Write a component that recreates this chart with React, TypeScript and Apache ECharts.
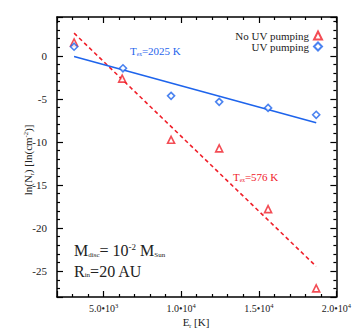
import React, { useEffect, useRef } from "react";
import * as echarts from "echarts";

// Data (E_r in K, ln(N_r))
const noUvE = [3100, 6200, 9350, 12450, 15600, 18700];
const noUvLnN = [1.55, -2.65, -9.75, -10.75, -17.8, -27.0];
const uvE = [3100, 6250, 9350, 12450, 15600, 18700];
const uvLnN = [1.05, -1.45, -4.65, -5.35, -6.05, -6.85];
// Fitted excitation lines (end points)
const fitNoUvE = [3100, 18700];
const fitNoUvLnN = [2.63, -24.45];
const fitUvE = [3100, 18700];
const fitUvLnN = [-0.08, -7.78];

const xTickLabels: Record<number, [string, string]> = {
  5000: ["5.0•10", "3"],
  10000: ["1.0•10", "4"],
  15000: ["1.5•10", "4"],
  20000: ["2.0•10", "4"],
};
const yTickValues = [0, -5, -10, -15, -20, -25];

const RED = "#f0202a";
const BLUE = "#1e64ec";
const FONT = '"Liberation Serif", "Times New Roman", serif';

export default function App() {
  const ref = useRef<HTMLDivElement>(null);
  useEffect(() => {
    if (!ref.current) return;
    const chart = echarts.init(ref.current, undefined, { renderer: "svg" });
    const axisCommon = {
      type: "value" as const,
      splitLine: { show: false },
      axisLine: { show: true, onZero: false, lineStyle: { color: "#000", width: 1.5 } },
      axisTick: { show: true, inside: true, length: 6, lineStyle: { color: "#000", width: 1.2 } },
      minorTick: { show: true, splitNumber: 5, length: 3, lineStyle: { color: "#000", width: 1.2 } },
    };
    const xCommon = { ...axisCommon, min: 2000, max: 20000, splitNumber: 4 };
    const yCommon = { ...axisCommon, min: -28, max: 4.5, splitNumber: 5 };
    chart.setOption({
      animation: false,
      backgroundColor: "#fff",
      textStyle: { fontFamily: FONT },
      grid: { left: 57, right: 17, top: 17, bottom: 37, containLabel: false },
      xAxis: [
        {
          ...xCommon,
          position: "bottom",
          axisLabel: {
            show: true,
            margin: 5,
            fontFamily: FONT,
            color: "#222",
            formatter: (v: number) => {
              const t = xTickLabels[Math.round(v)];
              return t ? `{b|${t[0]}}{s|${t[1]}}` : "";
            },
            rich: {
              b: { fontSize: 10, fontFamily: FONT, color: "#222", lineHeight: 12 },
              s: { fontSize: 6.5, fontFamily: FONT, color: "#222", verticalAlign: "top", lineHeight: 12, padding: [0, 0, 5, 0] },
            },
          },
        },
        { ...xCommon, position: "top", axisLabel: { show: false } },
      ],
      yAxis: [
        {
          ...yCommon,
          position: "left",
          axisLabel: {
            show: true,
            margin: 10,
            fontFamily: FONT,
            fontSize: 11,
            color: "#222",
            formatter: (v: number) => (yTickValues.includes(Math.round(v * 100) / 100) ? String(v) : ""),
          },
        },
        { ...yCommon, position: "right", axisLabel: { show: false } },
      ],
      legend: {
        orient: "vertical",
        align: "right",
        right: 31,
        top: 30,
        padding: 0,
        itemWidth: 8,
        itemHeight: 8,
        itemGap: 0,
        textStyle: { fontFamily: FONT, fontSize: 11, color: "#222", lineHeight: 11 },
        data: ["No UV pumping", "UV pumping"],
      },
      series: [
        {
          name: "fitNoUv",
          type: "line",
          data: fitNoUvE.map((e, i) => [e, fitNoUvLnN[i]]),
          symbol: "none",
          lineStyle: { color: RED, width: 1.6, type: [4, 3] },
          z: 2,
        },
        {
          name: "fitUv",
          type: "line",
          data: fitUvE.map((e, i) => [e, fitUvLnN[i]]),
          symbol: "none",
          lineStyle: { color: BLUE, width: 1.6 },
          z: 2,
        },
        {
          name: "No UV pumping",
          type: "scatter",
          data: noUvE.map((e, i) => [e, noUvLnN[i]]),
          symbol: "triangle",
          symbolSize: 7,
          itemStyle: { color: "#fff", borderColor: RED, borderWidth: 1.6 },
          z: 3,
        },
        {
          name: "UV pumping",
          type: "scatter",
          data: uvE.map((e, i) => [e, uvLnN[i]]),
          symbol: "diamond",
          symbolSize: 7,
          itemStyle: { color: "#fff", borderColor: BLUE, borderWidth: 1.6 },
          z: 3,
        },
      ],
      graphic: [
        {
          type: "text",
          left: 130,
          top: 45,
          style: {
            text: "{a|T}{b|ex}{a|=2025 K}",
            rich: {
              a: { fontSize: 11, fontFamily: FONT, fill: BLUE, lineHeight: 13 },
              b: { fontSize: 5.5, fontFamily: FONT, fill: BLUE, verticalAlign: "bottom", lineHeight: 13 },
            },
          },
        },
        {
          type: "text",
          left: 233,
          top: 171,
          style: {
            text: "{a|T}{b|ex}{a|=576 K}",
            rich: {
              a: { fontSize: 11, fontFamily: FONT, fill: RED, lineHeight: 13 },
              b: { fontSize: 5.5, fontFamily: FONT, fill: RED, verticalAlign: "bottom", lineHeight: 13 },
            },
          },
        },
        {
          type: "text",
          left: 74,
          top: 241,
          style: {
            text: "{a|M}{b|disc}{a|= 10}{c|-2}{a| M}{b|Sun}",
            rich: {
              a: { fontSize: 16, fontFamily: FONT, fill: "#222", lineHeight: 19 },
              b: { fontSize: 7, fontFamily: FONT, fill: "#222", verticalAlign: "bottom", lineHeight: 19, padding: [0, 0, 2, 0] },
              c: { fontSize: 9, fontFamily: FONT, fill: "#222", verticalAlign: "top", lineHeight: 19, padding: [1, 0, 0, 0] },
            },
          },
        },
        {
          type: "text",
          left: 74,
          top: 263,
          style: {
            text: "{a|R}{b|in}{a|=20 AU}",
            rich: {
              a: { fontSize: 16, fontFamily: FONT, fill: "#222", lineHeight: 19 },
              b: { fontSize: 7, fontFamily: FONT, fill: "#222", verticalAlign: "bottom", lineHeight: 19, padding: [0, 0, 2, 0] },
            },
          },
        },
        {
          type: "text",
          x: 196,
          y: 322,
          style: {
            text: "{a|E}{b|r}{a| [K]}",
            align: "center",
            verticalAlign: "middle",
            rich: {
              a: { fontSize: 11, fontFamily: FONT, fill: "#222", lineHeight: 13 },
              b: { fontSize: 6, fontFamily: FONT, fill: "#222", verticalAlign: "bottom", lineHeight: 13 },
            },
          },
        },
        {
          type: "text",
          x: 28,
          y: 160,
          rotation: Math.PI / 2,
          style: {
            text: "{a|ln(N}{b|r}{a|) [ln(cm}{c|-2}{a|)]}",
            align: "center",
            verticalAlign: "middle",
            rich: {
              a: { fontSize: 11, fontFamily: FONT, fill: "#222", lineHeight: 13 },
              b: { fontSize: 6, fontFamily: FONT, fill: "#222", verticalAlign: "bottom", lineHeight: 13 },
              c: { fontSize: 6.5, fontFamily: FONT, fill: "#222", verticalAlign: "top", lineHeight: 13 },
            },
          },
        },
      ],
    });
    return () => chart.dispose();
  }, []);
  return (
    <div
      ref={ref}
      style={{ position: "fixed", left: 0, top: 0, width: 354, height: 334, background: "#fff" }}
    />
  );
}
